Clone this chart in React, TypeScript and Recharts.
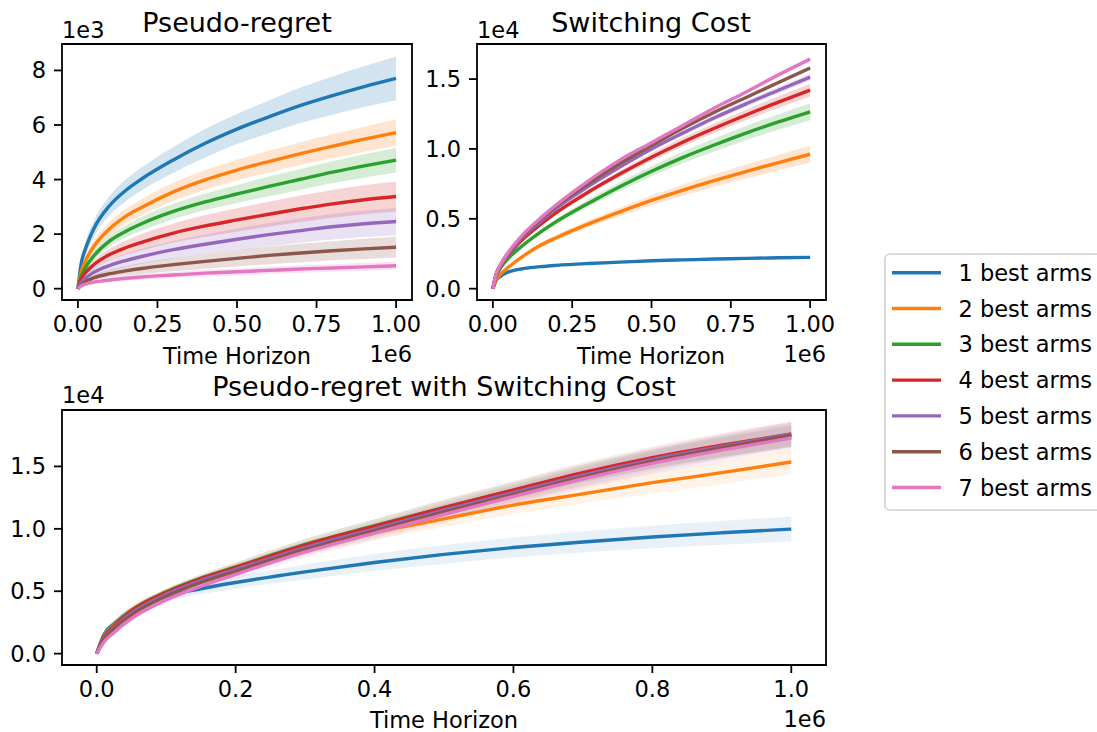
import { ComposedChart, Line, Area, XAxis, YAxis, ReferenceArea } from 'recharts';

// time horizon, in units of 1e6
const T = [0, 0.01, 0.025, 0.05, 0.1, 0.15, 0.2, 0.3, 0.4, 0.5, 0.6, 0.7, 0.8, 0.9, 1.0];

const ARM_LABELS = ['1 best arms', '2 best arms', '3 best arms', '4 best arms', '5 best arms', '6 best arms', '7 best arms'];
const COLORS = ['#1f77b4', '#ff7f0e', '#2ca02c', '#d62728', '#9467bd', '#8c564b', '#e377c2'];

// Pseudo-regret, units of 1e3 (one row per arm count)
const regretMean = [
  [0, 0.9, 1.5, 2.2, 3.05, 3.6, 4.02, 4.72, 5.33, 5.85, 6.3, 6.72, 7.08, 7.41, 7.71],
  [0, 0.6, 1.05, 1.55, 2.2, 2.65, 2.98, 3.55, 3.99, 4.35, 4.66, 4.95, 5.22, 5.48, 5.72],
  [0, 0.45, 0.8, 1.2, 1.75, 2.1, 2.38, 2.83, 3.18, 3.47, 3.75, 4.01, 4.27, 4.5, 4.71],
  [0, 0.35, 0.6, 0.88, 1.25, 1.5, 1.7, 2.04, 2.3, 2.52, 2.73, 2.93, 3.11, 3.26, 3.38],
  [0, 0.22, 0.4, 0.6, 0.85, 1.03, 1.18, 1.43, 1.63, 1.81, 1.98, 2.13, 2.27, 2.38, 2.46],
  [0, 0.15, 0.27, 0.4, 0.55, 0.65, 0.74, 0.88, 1.0, 1.11, 1.22, 1.31, 1.39, 1.46, 1.52],
  [0, 0.1, 0.17, 0.24, 0.32, 0.38, 0.43, 0.5, 0.57, 0.62, 0.67, 0.72, 0.76, 0.8, 0.84],
];
const regretSpread = [
  [0, 0.15, 0.25, 0.3, 0.35, 0.4, 0.42, 0.47, 0.52, 0.55, 0.6, 0.65, 0.7, 0.75, 0.8],
  [0, 0.1, 0.15, 0.2, 0.25, 0.28, 0.3, 0.33, 0.36, 0.38, 0.4, 0.42, 0.44, 0.46, 0.48],
  [0, 0.08, 0.12, 0.15, 0.2, 0.22, 0.25, 0.28, 0.3, 0.33, 0.36, 0.38, 0.4, 0.43, 0.45],
  [0, 0.08, 0.12, 0.16, 0.22, 0.26, 0.3, 0.35, 0.4, 0.43, 0.46, 0.49, 0.51, 0.53, 0.55],
  [0, 0.06, 0.1, 0.14, 0.2, 0.24, 0.27, 0.32, 0.36, 0.4, 0.43, 0.45, 0.47, 0.49, 0.5],
  [0, 0.04, 0.07, 0.1, 0.14, 0.17, 0.2, 0.24, 0.27, 0.3, 0.32, 0.34, 0.35, 0.37, 0.38],
  [0, 0.03, 0.05, 0.06, 0.08, 0.09, 0.1, 0.11, 0.12, 0.13, 0.13, 0.14, 0.14, 0.15, 0.15],
];

// Switching cost, units of 1e4
const switchMean = [
  [0, 0.06, 0.09, 0.12, 0.145, 0.158, 0.167, 0.18, 0.19, 0.2, 0.206, 0.212, 0.217, 0.221, 0.224],
  [0, 0.06, 0.105, 0.155, 0.24, 0.31, 0.365, 0.462, 0.55, 0.632, 0.706, 0.775, 0.84, 0.902, 0.962],
  [0, 0.085, 0.15, 0.22, 0.32, 0.405, 0.48, 0.61, 0.73, 0.84, 0.94, 1.03, 1.115, 1.193, 1.266],
  [0, 0.095, 0.165, 0.245, 0.365, 0.46, 0.545, 0.69, 0.82, 0.94, 1.05, 1.15, 1.245, 1.335, 1.421],
  [0, 0.1, 0.17, 0.25, 0.38, 0.48, 0.575, 0.73, 0.87, 1.0, 1.115, 1.225, 1.325, 1.42, 1.514],
  [0, 0.1, 0.175, 0.26, 0.39, 0.495, 0.59, 0.75, 0.895, 1.025, 1.15, 1.265, 1.37, 1.475, 1.579],
  [0, 0.1, 0.175, 0.265, 0.4, 0.505, 0.6, 0.77, 0.92, 1.045, 1.17, 1.295, 1.41, 1.53, 1.643],
];
const switchSpread = [
  [0, 0.004, 0.005, 0.005, 0.006, 0.006, 0.006, 0.006, 0.007, 0.007, 0.007, 0.007, 0.007, 0.007, 0.007],
  [0, 0.005, 0.008, 0.01, 0.014, 0.017, 0.02, 0.025, 0.03, 0.035, 0.04, 0.045, 0.05, 0.055, 0.06],
  [0, 0.005, 0.008, 0.01, 0.014, 0.017, 0.02, 0.026, 0.031, 0.036, 0.041, 0.046, 0.051, 0.056, 0.06],
  [0, 0.004, 0.006, 0.008, 0.011, 0.013, 0.015, 0.019, 0.023, 0.027, 0.031, 0.035, 0.038, 0.042, 0.045],
  [0, 0.003, 0.004, 0.005, 0.007, 0.008, 0.009, 0.011, 0.013, 0.015, 0.017, 0.019, 0.021, 0.023, 0.025],
  [0, 0.002, 0.003, 0.004, 0.005, 0.006, 0.007, 0.008, 0.009, 0.01, 0.011, 0.012, 0.013, 0.014, 0.015],
  [0, 0.002, 0.003, 0.003, 0.004, 0.005, 0.005, 0.006, 0.007, 0.007, 0.008, 0.008, 0.009, 0.009, 0.01],
];

// Pseudo-regret with switching cost, units of 1e4
const totalMean = [
  [0, 0.15, 0.24, 0.35, 0.46, 0.52, 0.57, 0.655, 0.73, 0.795, 0.85, 0.895, 0.935, 0.968, 0.998],
  [0, 0.14, 0.23, 0.35, 0.49, 0.59, 0.68, 0.84, 0.97, 1.08, 1.19, 1.28, 1.37, 1.45, 1.535],
  [0, 0.13, 0.225, 0.345, 0.495, 0.605, 0.695, 0.875, 1.025, 1.17, 1.31, 1.445, 1.56, 1.655, 1.74],
  [0, 0.13, 0.22, 0.34, 0.49, 0.6, 0.69, 0.87, 1.02, 1.17, 1.31, 1.45, 1.57, 1.67, 1.76],
  [0, 0.12, 0.21, 0.325, 0.475, 0.585, 0.675, 0.85, 1.0, 1.15, 1.29, 1.43, 1.555, 1.66, 1.76],
  [0, 0.11, 0.2, 0.31, 0.46, 0.57, 0.66, 0.835, 0.985, 1.135, 1.275, 1.415, 1.54, 1.65, 1.75],
  [0, 0.09, 0.17, 0.28, 0.43, 0.54, 0.635, 0.815, 0.965, 1.115, 1.26, 1.4, 1.525, 1.63, 1.728],
];
const totalSpread = [
  [0, 0.02, 0.03, 0.035, 0.04, 0.045, 0.05, 0.06, 0.068, 0.075, 0.08, 0.085, 0.09, 0.095, 0.1],
  [0, 0.01, 0.015, 0.02, 0.03, 0.035, 0.04, 0.05, 0.058, 0.065, 0.072, 0.078, 0.085, 0.09, 0.095],
  [0, 0.01, 0.015, 0.02, 0.027, 0.032, 0.036, 0.044, 0.052, 0.058, 0.064, 0.07, 0.075, 0.08, 0.085],
  [0, 0.01, 0.015, 0.02, 0.028, 0.033, 0.038, 0.048, 0.056, 0.064, 0.072, 0.08, 0.088, 0.095, 0.1],
  [0, 0.01, 0.015, 0.02, 0.028, 0.033, 0.038, 0.048, 0.056, 0.064, 0.072, 0.08, 0.088, 0.095, 0.1],
  [0, 0.01, 0.015, 0.02, 0.028, 0.033, 0.038, 0.048, 0.056, 0.064, 0.072, 0.08, 0.088, 0.095, 0.1],
  [0, 0.01, 0.015, 0.02, 0.028, 0.033, 0.038, 0.048, 0.056, 0.064, 0.072, 0.08, 0.088, 0.095, 0.1],
];

const FONT = '"DejaVu Sans", sans-serif';
const X_DOMAIN = [-0.05, 1.05];
const tickStyle = { fill: '#000', fontSize: 22.5, fontFamily: FONT };
const tickLineStyle = { stroke: '#000', strokeWidth: 1.8 };

function buildRows(means: number[][], spreads: number[][]) {
  return T.map((t, i) => {
    const row: Record<string, any> = { t };
    means.forEach((m, k) => {
      row[`m${k}`] = m[i];
      row[`b${k}`] = [m[i] - spreads[k][i], m[i] + spreads[k][i]];
    });
    return row;
  });
}

interface PanelProps {
  rows: Record<string, any>[];
  yDomain: number[];
  yTicks: number[];
  xTicks: number[];
  xDigits: number;
  yDigits: number;
  margin: { top: number; right: number; bottom: number; left: number };
  yWidth: number;
  bandOpacity: number;
}

function Panel({ rows, yDomain, yTicks, xTicks, xDigits, yDigits, margin, yWidth, bandOpacity }: PanelProps) {
  return (
    <div style={{ position: 'absolute', left: 0, top: 0 }}>
      <ComposedChart width={1097} height={732} data={rows} margin={margin}>
        <XAxis
          type="number"
          dataKey="t"
          domain={X_DOMAIN}
          ticks={xTicks}
          interval={0}
          allowDataOverflow
          tickFormatter={(v: number) => v.toFixed(xDigits)}
          axisLine={false}
          tickLine={tickLineStyle}
          tickSize={8}
          tickMargin={8}
          tick={tickStyle}
          height={50}
        />
        <YAxis
          type="number"
          domain={yDomain}
          ticks={yTicks}
          interval={0}
          allowDataOverflow
          tickFormatter={(v: number) => v.toFixed(yDigits)}
          axisLine={false}
          tickLine={tickLineStyle}
          tickSize={8}
          tickMargin={8}
          tick={tickStyle}
          width={yWidth}
        />
        {COLORS.map((c, k) => [
          <Line
            key={`l${k}`}
            dataKey={`m${k}`}
            type="monotone"
            stroke={c}
            strokeWidth={3.4}
            dot={false}
            activeDot={false}
            isAnimationActive={false}
          />,
          <Area
            key={`a${k}`}
            dataKey={`b${k}`}
            type="monotone"
            fill={c}
            fillOpacity={bandOpacity}
            stroke="none"
            dot={false}
            activeDot={false}
            isAnimationActive={false}
          />,
        ])}
        <ReferenceArea
          x1={X_DOMAIN[0]}
          x2={X_DOMAIN[1]}
          y1={yDomain[0]}
          y2={yDomain[1]}
          fill="none"
          fillOpacity={0}
          stroke="#000"
          strokeWidth={1.8}
          ifOverflow="visible"
        />
      </ComposedChart>
    </div>
  );
}

function Labels() {
  const t = { fontFamily: FONT, fill: '#000' } as const;
  return (
    <svg width={1097} height={732} style={{ position: 'absolute', left: 0, top: 0, pointerEvents: 'none' }}>
      <text x={237} y={31.5} textAnchor="middle" fontSize={27} {...t}>Pseudo-regret</text>
      <text x={651} y={31.5} textAnchor="middle" fontSize={27} {...t}>Switching Cost</text>
      <text x={444} y={396} textAnchor="middle" fontSize={27} {...t}>Pseudo-regret with Switching Cost</text>

      <text x={62} y={37.5} fontSize={22.5} {...t}>1e3</text>
      <text x={477} y={37.5} fontSize={22.5} {...t}>1e4</text>
      <text x={62} y={403} fontSize={22.5} {...t}>1e4</text>

      <text x={237} y={364} textAnchor="middle" fontSize={22.5} {...t}>Time Horizon</text>
      <text x={651} y={364} textAnchor="middle" fontSize={22.5} {...t}>Time Horizon</text>
      <text x={444} y={728} textAnchor="middle" fontSize={22.5} {...t}>Time Horizon</text>

      <text x={412} y={362} textAnchor="end" fontSize={22.5} {...t}>1e6</text>
      <text x={826} y={362} textAnchor="end" fontSize={22.5} {...t}>1e6</text>
      <text x={826} y={727} textAnchor="end" fontSize={22.5} {...t}>1e6</text>
    </svg>
  );
}

// legend drawn as svg so the handles and labels sit exactly where matplotlib puts them
function ArmLegend() {
  return (
    <svg width={1097} height={732} style={{ position: 'absolute', left: 0, top: 0, pointerEvents: 'none' }}>
      <rect x={884.9} y={254.2} width={260} height={256} rx={5} ry={5} fill="#fff" stroke="#d6d6d6" strokeWidth={1.8} />
      {ARM_LABELS.map((label, k) => {
        const cy = 272.7 + k * 35.8;
        return (
          <g key={label}>
            <line x1={892} x2={941} y1={cy} y2={cy} stroke={COLORS[k]} strokeWidth={3.4} />
            <text x={958.5} y={cy + 8} fontSize={22.5} fontFamily={FONT} fill="#000">
              {label}
            </text>
          </g>
        );
      })}
    </svg>
  );
}

export default function App() {
  const regretRows = buildRows(regretMean, regretSpread);
  const switchRows = buildRows(switchMean, switchSpread);
  const totalRows = buildRows(totalMean, totalSpread);

  return (
    <div
      style={{
        position: 'absolute',
        left: 0,
        top: 0,
        width: 1097,
        height: 732,
        overflow: 'hidden',
        background: '#fff',
      }}
    >
      <Panel
        rows={regretRows}
        yDomain={[-0.415, 8.969]}
        yTicks={[0, 2, 4, 6, 8]}
        xTicks={[0, 0.25, 0.5, 0.75, 1]}
        xDigits={2}
        yDigits={0}
        margin={{ top: 44, right: 685, bottom: 382, left: 0 }}
        yWidth={62}
        bandOpacity={0.2}
      />
      <Panel
        rows={switchRows}
        yDomain={[-0.081, 1.751]}
        yTicks={[0, 0.5, 1, 1.5]}
        xTicks={[0, 0.25, 0.5, 0.75, 1]}
        xDigits={2}
        yDigits={1}
        margin={{ top: 44, right: 271, bottom: 382, left: 400 }}
        yWidth={77}
        bandOpacity={0.2}
      />
      <Panel
        rows={totalRows}
        yDomain={[-0.091, 1.952]}
        yTicks={[0, 0.5, 1, 1.5]}
        xTicks={[0, 0.2, 0.4, 0.6, 0.8, 1]}
        xDigits={1}
        yDigits={1}
        margin={{ top: 410, right: 271, bottom: 17, left: 0 }}
        yWidth={62}
        bandOpacity={0.1}
      />
      <Labels />
      <ArmLegend />
    </div>
  );
}
